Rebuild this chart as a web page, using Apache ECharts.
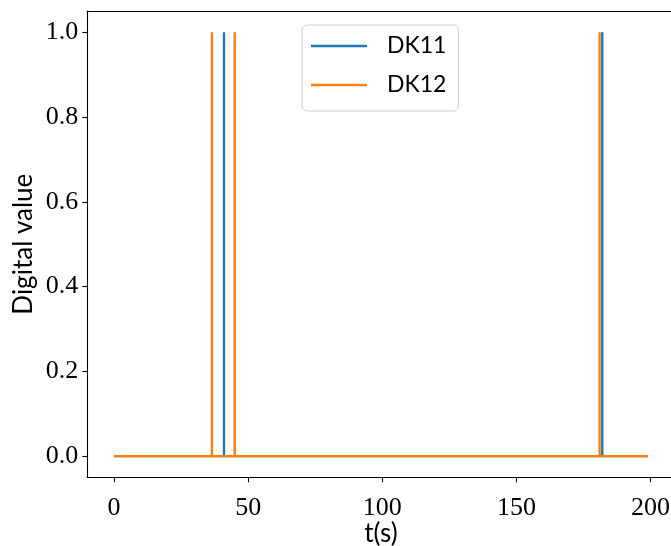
<!DOCTYPE html>
<html>
<head>
<meta charset="utf-8">
<script src="https://cdn.jsdelivr.net/npm/echarts@6/dist/echarts.min.js"></script>
<style>
  html, body { margin: 0; padding: 0; background: #ffffff; }
  #chart { width: 671px; height: 546px; }
</style>
</head>
<body>
<div id="chart"></div>
<script>
// Time span of the recording (s)
const timeRange = [0, 199];
// Instants (s) at which each digital channel goes high
const dk11Pulses = [41, 182];
const dk12Pulses = [36.5, 45, 181];
// Axis ticks
const xTicks = [0, 50, 100, 150, 200];
const yTicks = [0, 0.2, 0.4, 0.6, 0.8, 1.0];
const seriesNames = ['DK11', 'DK12'];
const seriesColors = ['#1f77b4', '#ff7f0e'];

// Build a 0/1 trace: low everywhere except a vertical pulse at each instant
function pulseTrace(pulses) {
  const pts = [[timeRange[0], 0]];
  pulses.slice().sort((a, b) => a - b).forEach(t => {
    pts.push([t, 0], [t, 1], [t, 0]);
  });
  pts.push([timeRange[1], 0]);
  return pts;
}

const serifFont = '"Liberation Serif", "DejaVu Serif", serif';
const sansFont = 'Lato, "Noto Sans", sans-serif';

const chart = echarts.init(document.getElementById('chart'), null, { renderer: 'canvas' });

const spine = { show: true, onZero: false, lineStyle: { color: '#000', width: 1.1 } };

chart.setOption({
  animation: false,
  backgroundColor: '#ffffff',
  grid: { left: 87.3, top: 11, width: 587.3, height: 466.3, containLabel: false, outerBoundsMode: 'none' },
  legend: {
    data: seriesNames,
    orient: 'vertical',
    left: 302,
    top: 25,
    icon: 'rect',
    itemWidth: 56,
    itemHeight: 2.4,
    itemGap: 13,
    backgroundColor: 'rgba(255,255,255,0.8)',
    borderColor: '#cccccc',
    borderWidth: 1,
    borderRadius: 5,
    padding: [8, 12, 13, 9],
    textStyle: { fontFamily: sansFont, fontSize: 23, color: '#000', lineHeight: 26, padding: [0, 0, 0, 15] }
  },
  xAxis: [
    {
      type: 'value',
      min: -9.95,
      max: 208.95,
      position: 'bottom',
      name: 't(s)',
      nameLocation: 'middle',
      nameGap: 43,
      nameMoveOverlap: false,
      nameTextStyle: { fontFamily: sansFont, fontSize: 26, color: '#000' },
      axisLine: spine,
      axisTick: { show: true, length: 5, lineStyle: { color: '#000', width: 1.1 }, customValues: xTicks },
      axisLabel: { fontFamily: serifFont, fontSize: 26, color: '#000', margin: 18, customValues: xTicks, formatter: v => String(v) },
      splitLine: { show: false }
    },
    {
      type: 'value',
      min: -9.95,
      max: 208.95,
      position: 'top',
      axisLine: spine,
      axisTick: { show: false },
      axisLabel: { show: false },
      splitLine: { show: false }
    }
  ],
  yAxis: [
    {
      type: 'value',
      min: -0.05,
      max: 1.05,
      position: 'left',
      name: 'Digital value',
      nameLocation: 'middle',
      nameGap: 51,
      nameMoveOverlap: false,
      nameRotate: 90,
      nameTextStyle: { fontFamily: sansFont, fontSize: 26, color: '#000' },
      axisLine: spine,
      axisTick: { show: true, length: 5, lineStyle: { color: '#000', width: 1.1 }, customValues: yTicks },
      axisLabel: { fontFamily: serifFont, fontSize: 26, color: '#000', margin: 9, customValues: yTicks, formatter: v => v.toFixed(1) },
      splitLine: { show: false }
    },
    {
      type: 'value',
      min: -0.05,
      max: 1.05,
      position: 'right',
      axisLine: spine,
      axisTick: { show: false },
      axisLabel: { show: false },
      splitLine: { show: false }
    }
  ],
  series: [
    {
      name: seriesNames[0],
      type: 'line',
      data: pulseTrace(dk11Pulses),
      showSymbol: false,
      symbol: 'none',
      color: seriesColors[0],
      lineStyle: { width: 2.4, color: seriesColors[0] },
      clip: true
    },
    {
      name: seriesNames[1],
      type: 'line',
      data: pulseTrace(dk12Pulses),
      showSymbol: false,
      symbol: 'none',
      color: seriesColors[1],
      lineStyle: { width: 2.4, color: seriesColors[1] },
      clip: true
    }
  ]
});
</script>
</body>
</html>
